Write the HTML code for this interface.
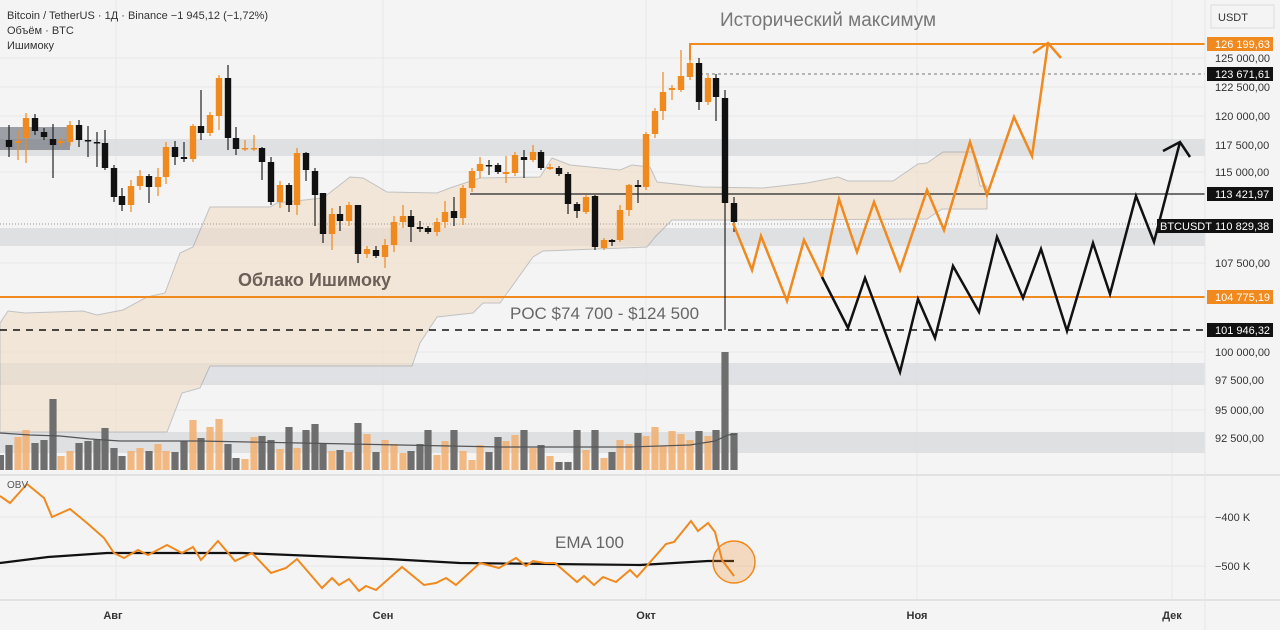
<!DOCTYPE html>
<html><head><meta charset="utf-8"><style>
html,body{margin:0;padding:0;background:#f4f4f4;}
svg{display:block;font-family:"Liberation Sans","DejaVu Sans",sans-serif;}
</style></head><body>
<svg id="c" width="1280" height="630" viewBox="0 0 1280 630" xmlns="http://www.w3.org/2000/svg">
<rect width="1280" height="630" fill="#f4f4f4"/>
<g stroke="#e8e8e8" stroke-width="1">
<line x1="116" y1="0" x2="116" y2="600"/><line x1="383" y1="0" x2="383" y2="600"/><line x1="646" y1="0" x2="646" y2="600"/><line x1="917" y1="0" x2="917" y2="600"/><line x1="1172" y1="0" x2="1172" y2="600"/>
<line x1="0" y1="58" x2="1205" y2="58"/><line x1="0" y1="87" x2="1205" y2="87"/><line x1="0" y1="116" x2="1205" y2="116"/><line x1="0" y1="172" x2="1205" y2="172"/><line x1="0" y1="263" x2="1205" y2="263"/><line x1="0" y1="352" x2="1205" y2="352"/><line x1="0" y1="410" x2="1205" y2="410"/><line x1="0" y1="517" x2="1205" y2="517"/><line x1="0" y1="566" x2="1205" y2="566"/>
</g>
<!-- bands -->
<g fill="#dcdde0" opacity="0.85">
<rect x="0" y="139" width="1205" height="17"/>
<rect x="0" y="228" width="1205" height="18"/>
<rect x="0" y="363" width="1205" height="22"/>
<rect x="0" y="432" width="1205" height="21"/>
</g>
<rect x="0" y="127" width="70" height="23" fill="#555a66" opacity="0.55"/>
<!-- cloud -->
<path d="M0,323 L8,311 L25,313 L83,311 L97,315 L123,310 L147,297 L165,293 L180,253 L193,247 L210,207 L270,207 L277,203 L323,198 L350,177 L363,178 L387,192 L437,193 L450,188 L480,178 L540,177 L552,158 L570,165 L620,170 L632,165 L650,167 L657,182 L703,187 L763,188 L807,183 L838,177 L848,181 L893,181 L918,164 L927,163 L943,152 L973,152 L980,186 L987,186 L987,209 L942,209 L927,219 L750,220 L672,220 L655,237 L647,247 L597,249 L543,251 L533,257 L500,303 L483,303 L473,313 L437,317 L420,343 L412,366 L210,366 L200,388 L182,393 L167,432 L0,432 Z" fill="#f2dcc4" opacity="0.55" stroke="#999" stroke-width="1"/>
<!-- levels -->
<polyline points="690,60 690,44 1205,44" fill="none" stroke="#f0891e" stroke-width="2"/>
<line x1="700" y1="74" x2="1205" y2="74" stroke="#777" stroke-width="1" stroke-dasharray="3,3"/>
<line x1="470" y1="194" x2="1205" y2="194" stroke="#444" stroke-width="1.5"/>
<line x1="0" y1="224" x2="1205" y2="224" stroke="#999" stroke-width="1" stroke-dasharray="1,2"/>
<line x1="0" y1="297" x2="1205" y2="297" stroke="#f0891e" stroke-width="2"/>
<line x1="0" y1="330" x2="1205" y2="330" stroke="#111" stroke-width="1.5" stroke-dasharray="7,6"/>
<g id="candles"></g>
<g id="vol"></g>
<polyline points="0,433 30,435 60,436 90,439 120,441 200,441 300,443 400,445 500,447 560,447 630,447 690,445 715,441 728,435 737,434" fill="none" stroke="#555" stroke-width="1.2"/>
<!-- forecast -->
<polyline points="733,223 752,270 761,236 787,301 804,240 822,277 839,199 857,252 874,202 900,270 927,190 944,230 970,142 987,195 1014,117 1032,156 1048,43" fill="none" stroke="#f0891e" stroke-width="2.5" stroke-linejoin="miter"/>
<polyline points="1033,53 1048,43 1061,58" fill="none" stroke="#f0891e" stroke-width="2.5"/>
<polyline points="822,277 848,328 865,278 900,372 918,299 935,338 953,266 979,312 997,237 1023,298 1041,249 1067,331 1093,243 1110,294 1136,196 1154,242 1180,142" fill="none" stroke="#111" stroke-width="2.5"/>
<polyline points="1163,151 1180,142 1190,157" fill="none" stroke="#111" stroke-width="2.5"/>
<!-- separator OBV -->
<line x1="0" y1="475" x2="1280" y2="475" stroke="#e2e2e2" stroke-width="2"/>
<line x1="0" y1="600" x2="1280" y2="600" stroke="#e2e2e2" stroke-width="2"/>
<line x1="1205" y1="0" x2="1205" y2="630" stroke="#e6e6e6" stroke-width="1"/>
<!-- OBV -->
<polyline points="0,563 48,557 107,553 242,553 388,559 460,563 640,565 708,561 734,561" fill="none" stroke="#111" stroke-width="2.2"/>
<polyline points="0,496 10,503 27,484 44,498 52,517 70,509 87,523 104,538 114,553 124,558 138,550 148,555 167,545 182,553 193,547 201,560 218,541 235,561 252,553 271,573 286,568 297,559 322,588 332,578 339,585 349,579 359,591 366,586 376,590 402,567 424,585 436,583 446,578 456,585 480,563 499,568 516,558 526,566 533,561 545,563 555,563 577,582 584,576 594,585 603,577 616,582 630,570 637,577 666,544 674,542 691,521 698,531 708,523 715,532 722,560 734,576" fill="none" stroke="#f0891e" stroke-width="2"/>
<circle cx="734" cy="562" r="21" fill="#f0891e" fill-opacity="0.25" stroke="#f0891e" stroke-width="1.5"/>
<!-- texts -->
<g font-size="11" fill="#333">
<text x="7" y="19">Bitcoin / TetherUS · 1Д · Binance  −1 945,12 (−1,72%)</text>
<text x="7" y="34">Объём · BTC</text>
<text x="7" y="49">Ишимоку</text>
<text x="7" y="488" font-size="10" fill="#555">OBV</text>
</g>
<text x="720" y="26" font-size="19" fill="#777">Исторический максимум</text>
<text x="238" y="286" font-size="18" font-weight="bold" fill="#6b5f57">Облако Ишимоку</text>
<text x="510" y="319" font-size="17" fill="#666">POC $74 700 - $124 500</text>
<text x="555" y="548" font-size="17" fill="#666">EMA 100</text>
<g font-size="11" fill="#333" font-weight="bold" text-anchor="middle">
<text x="113" y="619">Авг</text><text x="383" y="619">Сен</text><text x="646" y="619">Окт</text><text x="917" y="619">Ноя</text><text x="1172" y="619">Дек</text>
</g>
<!-- right axis -->
<rect x="1211" y="5" width="63" height="23" fill="#f4f4f4" stroke="#ddd"/>
<text x="1218" y="21" font-size="11" fill="#333">USDT</text>
<g font-size="11" fill="#333">
<text x="1215" y="62">125 000,00</text><text x="1215" y="91">122 500,00</text><text x="1215" y="120">120 000,00</text><text x="1215" y="149">117 500,00</text><text x="1215" y="176">115 000,00</text><text x="1215" y="267">107 500,00</text><text x="1215" y="356">100 000,00</text><text x="1215" y="384">97 500,00</text><text x="1215" y="414">95 000,00</text><text x="1215" y="442">92 500,00</text><text x="1215" y="521">−400 K</text><text x="1215" y="570">−500 K</text>
</g>
<g font-size="11">
<rect x="1207" y="37" width="66" height="14" fill="#f0891e"/><text x="1215" y="48" fill="#fff">126 199,63</text>
<rect x="1207" y="67" width="66" height="14" fill="#111"/><text x="1215" y="78" fill="#fff">123 671,61</text>
<rect x="1207" y="187" width="66" height="14" fill="#111"/><text x="1215" y="198" fill="#fff">113 421,97</text>
<rect x="1157" y="219" width="116" height="14" fill="#111"/><text x="1160" y="230" fill="#fff">BTCUSDT</text><text x="1215" y="230" fill="#fff">110 829,38</text>
<rect x="1207" y="290" width="66" height="14" fill="#f0891e"/><text x="1215" y="301" fill="#fff">104 775,19</text>
<rect x="1207" y="323" width="66" height="14" fill="#111"/><text x="1215" y="334" fill="#fff">101 946,32</text>
</g>
</svg>
<script>
var C=[[9,140,147,125,157],[18,143,141,130,160],[26,138,118,113,163],[35,118,131,114,135],[44,132,137,128,140],[53,139,145,124,178],[61,143,141,138,146],[70,142,125,121,146],[79,125,140,120,147],[88,140,141,126,157],[97,142,143,132,167],[105,143,168,130,170],[114,168,197,165,202],[122,196,205,188,211],[131,205,186,180,212],[140,186,176,170,190],[149,176,187,174,203],[158,187,177,168,196],[166,177,147,142,184],[175,147,157,141,165],[184,157,159,142,162],[193,159,126,124,162],[201,126,133,90,140],[210,133,115,112,136],[219,116,78,75,130],[228,78,138,65,150],[236,138,149,127,155],[245,149,148,140,151],[254,149,148,135,151],[262,148,162,147,180],[271,162,202,157,205],[280,202,185,181,208],[289,185,205,183,212],[297,205,153,148,215],[306,153,170,152,181],[315,171,195,168,226],[323,193,234,193,243],[332,234,214,208,250],[340,214,221,206,231],[349,221,205,202,226],[358,205,254,205,263],[367,254,249,246,258],[376,250,256,246,258],[385,257,245,239,268],[394,245,222,216,252],[403,222,216,205,228],[411,216,227,210,242],[420,227,229,221,232],[428,228,232,226,234],[437,232,222,218,236],[445,222,212,201,228],[454,211,218,197,226],[463,218,188,185,225],[472,188,171,168,192],[480,171,164,157,178],[489,165,166,160,175],[498,165,172,163,174],[506,174,172,156,183],[515,173,155,152,176],[524,157,160,150,178],[533,160,152,145,162],[541,152,168,150,170],[550,169,167,164,170],[559,168,174,166,176],[568,174,204,172,214],[577,204,211,202,218],[586,212,197,195,214],[595,196,247,195,250],[604,248,240,238,250],[612,240,242,239,246],[620,240,210,205,242],[629,210,185,184,216],[638,185,187,180,203],[646,187,134,132,190],[655,134,111,108,138],[663,111,92,72,120],[672,90,88,85,100],[681,90,76,50,92],[690,77,63,55,80],[699,63,102,58,110],[708,102,78,75,105],[716,78,97,74,121],[725,98,203,90,330],[734,203,222,197,232]];
var V=[445,437,430,443,440,399,456,451,443,441,440,428,448,456,451,448,451,444,451,452,441,420,438,427,419,444,458,459,437,436,440,449,427,448,430,424,444,451,450,452,423,434,452,440,444,453,451,444,430,455,441,430,451,460,445,452,437,441,435,430,448,445,456,462,462,430,450,430,458,452,440,444,433,436,427,446,431,434,440,431,436,430,352,433];
var ns="http://www.w3.org/2000/svg",g=document.getElementById("candles"),vg=document.getElementById("vol");
function el(p,t,a){var e=document.createElementNS(ns,t);for(var k in a)e.setAttribute(k,a[k]);p.appendChild(e);}
el(vg,"rect",{x:0,y:455,width:4,height:15,fill:"#6e6e6e"});
C.forEach(function(c,i){var bull=c[2]<c[1];var col=bull?"#f0891e":"#111";
el(g,"line",{x1:c[0],y1:c[3],x2:c[0],y2:c[4],stroke:bull?"#f0891e":"#222","stroke-width":1.2});
var t=Math.min(c[1],c[2]),h=Math.max(1.5,Math.abs(c[2]-c[1]));
el(g,"rect",{x:c[0]-3.2,y:t,width:6.4,height:h,fill:col});
var vt=V[i]||445;el(vg,"rect",{x:c[0]-3.6,y:vt,width:7.2,height:470-vt,fill:bull?"#f2b174":"#6e6e6e",opacity:bull?0.9:1});
});
</script>
</body></html>
